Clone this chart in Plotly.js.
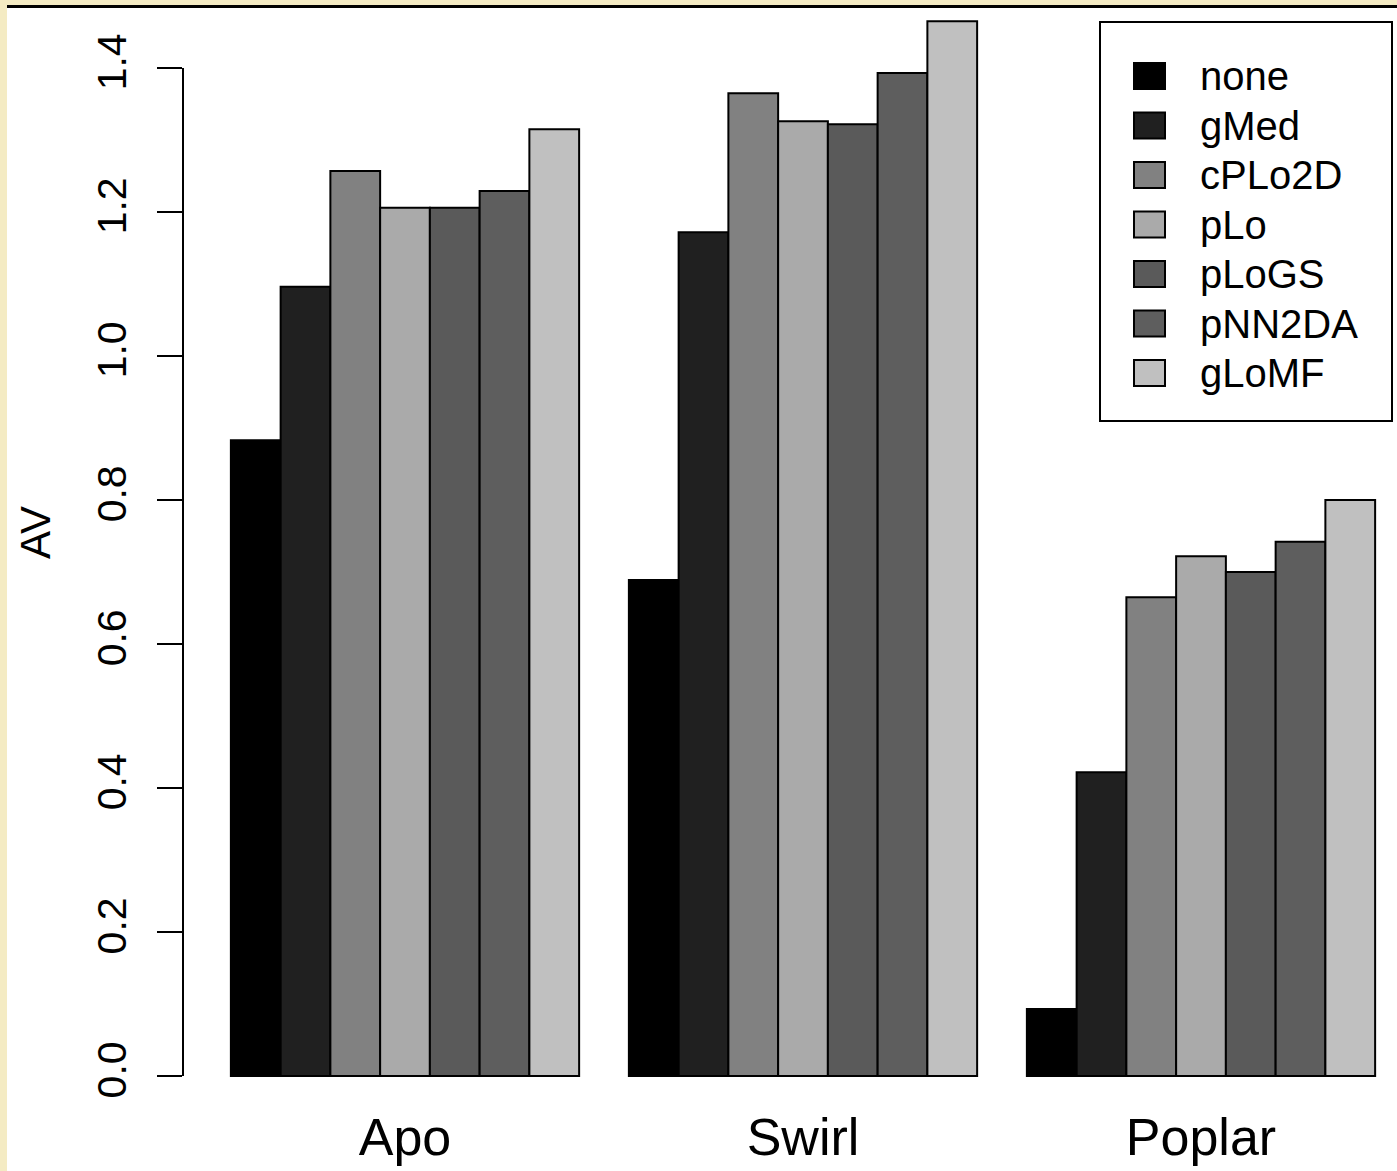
<!DOCTYPE html>
<html>
<head>
<meta charset="utf-8">
<script src="https://cdn.plot.ly/plotly-3.0.1.min.js"></script>
<style>
  html, body { margin: 0; padding: 0; width: 1397px; height: 1171px; overflow: hidden; background: #f4ebc3; }
  #topline { position: absolute; left: 7px; top: 5px; width: 1390px; height: 3px; background: #000; }
  #chart { position: absolute; left: 7px; top: 8px; width: 1390px; height: 1163px; background: #fff; }
</style>
</head>
<body>
<div id="topline"></div>
<div id="chart"></div>
<script>
// ---- data ----
const categories = ['Apo', 'Swirl', 'Poplar'];
const seriesNames = ['none', 'gMed', 'cPLo2D', 'pLo', 'pLoGS', 'pNN2DA', 'gLoMF'];
const none   = [0.883, 0.689, 0.093];
const gMed   = [1.096, 1.172, 0.422];
const cPLo2D = [1.257, 1.365, 0.665];
const pLo    = [1.206, 1.326, 0.722];
const pLoGS  = [1.206, 1.322, 0.700];
const pNN2DA = [1.229, 1.393, 0.742];
const gLoMF  = [1.315, 1.465, 0.800];
const seriesValues = [none, gMed, cPLo2D, pLo, pLoGS, pNN2DA, gLoMF];
const seriesColors = ['#000000', '#202020', '#818181', '#aaaaaa', '#5a5a5a', '#5e5e5e', '#c0c0c0'];
const yTicks = [0.0, 0.2, 0.4, 0.6, 0.8, 1.0, 1.2, 1.4];
const yLabel = 'AV';

const FONT = 'Liberation Sans, Arial, Helvetica, sans-serif';

const traces = seriesNames.map((name, i) => ({
  type: 'bar',
  name: name,
  x: categories,
  y: seriesValues[i],
  marker: { color: seriesColors[i], line: { color: '#000', width: 2 } },
  showlegend: false,
  hoverinfo: 'x+y+name'
}));

// page-pixel helpers for layout (legend placement)
const plotLeft = 183, plotRight = 1397, plotTop = 8, plotBottom = 1100;
const yTopVal = 1.4833, yBotVal = -0.0333;
const px2x = px => (px - plotLeft) / (plotRight - plotLeft);
const py2y = py => yBotVal + (plotBottom - py) / (plotBottom - plotTop) * (yTopVal - yBotVal);

const shapes = [];
const annotations = [];

// y axis line (R style, spans only tick range)
shapes.push({ type: 'line', xref: 'paper', yref: 'y', x0: 0, x1: 0, y0: yTicks[0], y1: yTicks[yTicks.length - 1],
  line: { color: '#000', width: 2 } });

// legend box
shapes.push({ type: 'rect', xref: 'paper', yref: 'y', x0: px2x(1100), x1: px2x(1392), y0: py2y(421), y1: py2y(22),
  line: { color: '#000', width: 2 }, fillcolor: '#fff', layer: 'above' });
seriesNames.forEach((name, i) => {
  const cy = 76 + i * 49.5;
  shapes.push({ type: 'rect', xref: 'paper', yref: 'y', x0: px2x(1134), x1: px2x(1165), y0: py2y(cy + 13), y1: py2y(cy - 13),
    line: { color: '#000', width: 2 }, fillcolor: seriesColors[i], layer: 'above' });
  annotations.push({ xref: 'paper', yref: 'y', x: px2x(1198), y: py2y(cy), xanchor: 'left', yanchor: 'middle',
    text: name, showarrow: false, font: { family: FONT, size: 40, color: '#000' } });
});

// y axis title
annotations.push({ xref: 'paper', yref: 'y', x: 0, xshift: -148, y: py2y(533), xanchor: 'center', yanchor: 'middle',
  text: yLabel, textangle: -90, showarrow: false, font: { family: FONT, size: 42, color: '#000' } });

const layout = {
  width: 1390, height: 1163,
  margin: { l: 176, r: 0, t: 0, b: 71, pad: 0 },
  paper_bgcolor: '#ffffff', plot_bgcolor: '#ffffff',
  barmode: 'group', bargap: 0.125, bargroupgap: 0,
  showlegend: false,
  font: { family: FONT, color: '#000' },
  xaxis: {
    type: 'category',
    range: [(plotLeft - 405) / 398, (plotRight - 405) / 398],
    showgrid: false, zeroline: false, showline: false, ticks: '',
    tickfont: { family: FONT, size: 52, color: '#000' },
    ticklabelstandoff: 2
  },
  yaxis: {
    range: [yBotVal, yTopVal],
    showgrid: false, zeroline: false, showline: false,
    ticks: 'outside', ticklen: 25, tickwidth: 2, tickcolor: '#000',
    tickvals: yTicks, tickformat: '.1f', tickangle: -90,
    tickfont: { family: FONT, size: 41, color: '#000' },
    ticklabelstandoff: 15
  },
  shapes: shapes,
  annotations: annotations
};

Plotly.newPlot('chart', traces, layout, { displayModeBar: false, staticPlot: true });
</script>
</body>
</html>
